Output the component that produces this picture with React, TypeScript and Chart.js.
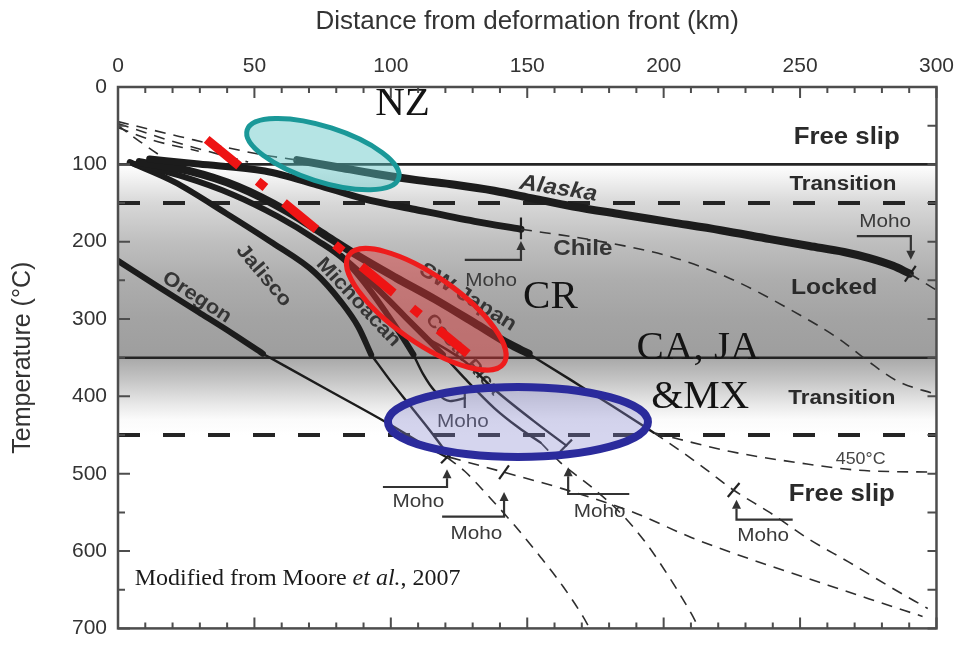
import { useEffect, useRef } from "react";
import { Chart, registerables } from "chart.js";

Chart.register(...registerables);

type Pair = [number, number];

// ---- axes ----
const DIST_MIN = 0;
const DIST_MAX = 300;
const DIST_STEP = 50;
const DIST_MINOR = 10;
const TEMP_MIN = 0;
const TEMP_MAX = 700;
const TEMP_STEP = 100;
const TEMP_MINOR = 50;
const DIST_TITLE = "Distance from deformation front (km)";
const TEMP_TITLE = "Temperature (°C)";

// ---- slip-zone isotherms (°C) ----
const SOLID_ISOTHERMS = [100, 350];
const DASHED_ISOTHERMS = [150, 450];

// ---- plate-interface thermal profiles: [distance km, temperature °C] ----
const alaska: Pair[] = [[65.7, 94.5], [80.1, 103.4], [94.6, 112.4], [109.0, 120.1], [123.5, 126.4], [137.9, 134.1], [152.3, 144.3], [166.8, 154.5], [184.8, 164.8], [202.9, 175.0], [220.9, 185.2], [239.0, 196.7], [253.4, 205.6], [266.1, 213.3], [275.1, 220.9], [284.1, 231.2], [290.2, 241.4]];
const alaskaDeep: Pair[] = [[290.2, 241.4], [299.6, 261.8]];
const chile: Pair[] = [[11.6, 93.2], [29.6, 99.6], [53.8, 108.6], [72.9, 126.4], [89.9, 144.3], [109.0, 158.4], [130.7, 173.7], [147.7, 183.9]];
const chileDeep: Pair[] = [[147.7, 183.9], [174.0, 197.9], [202.9, 219.7], [224.5, 247.8], [246.2, 287.4], [264.3, 325.7], [275.1, 355.0], [285.9, 380.6], [299.6, 397.2]];
const swJapan: Pair[] = [[7.9, 97.1], [26.0, 108.6], [44.0, 129.0], [62.1, 160.9], [76.5, 192.8], [87.4, 217.1], [101.8, 246.5], [116.2, 274.6], [130.7, 305.2], [143.3, 332.1], [150.5, 344.8]];
const swJapanLower: Pair[] = [[150.5, 344.8], [166.8, 380.6], [181.2, 412.5], [196.4, 447.0]];
const swJapanDeep: Pair[] = [[196.4, 447.0], [206.5, 471.3], [215.5, 494.3], [225.6, 521.1], [239.0, 550.4], [253.4, 584.9], [267.9, 614.3], [282.3, 644.9], [296.8, 674.3]];
const isotherm450: Pair[] = [[196.4, 447.0], [224.5, 471.3], [250.9, 486.6], [271.5, 495.5], [299.6, 498.1]];
const michoacan: Pair[] = [[6.1, 99.6], [24.2, 116.2], [42.2, 139.2], [58.5, 167.3], [72.9, 198.0], [83.0, 223.5], [91.7, 259.3], [98.9, 295.0], [104.7, 325.7], [108.3, 346.1]];
const michoacanLower: Pair[] = [[108.3, 346.1], [111.9, 371.6], [116.2, 393.4], [121.7, 406.1], [127.1, 402.3]];
const jalisco: Pair[] = [[4.3, 97.1], [20.6, 122.6], [39.7, 163.5], [56.7, 201.8], [72.2, 240.1], [81.9, 278.4], [88.1, 310.3], [92.8, 346.1]];
const jaliscoLower: Pair[] = [[92.8, 346.1], [100.0, 380.6], [107.2, 412.5], [114.4, 444.4], [121.7, 478.9]];
const jaliscoDeep: Pair[] = [[121.7, 478.9], [141.5, 498.1], [162.1, 518.5], [188.4, 549.2], [210.1, 582.4], [231.8, 610.5], [253.4, 636.0], [275.1, 661.6], [294.9, 684.5]];
const oregon: Pair[] = [[0, 224.8], [15.2, 259.3], [29.6, 291.2], [42.2, 319.3], [53.1, 344.8]];
const oregonLower: Pair[] = [[53.1, 344.8], [76.5, 390.8], [98.6, 434.2], [112.6, 463.6], [120.6, 478.9]];
const oregonDeep: Pair[] = [[120.6, 478.9], [127.1, 496.8], [135.4, 527.5], [145.1, 565.8], [154.9, 607.9], [163.2, 646.2], [170.4, 684.5], [172.9, 699.9]];
const costaRica: Pair[] = [[81.9, 218.4], [92.8, 252.9], [103.6, 291.2], [112.6, 323.1], [119.1, 346.1]];
const costaRicaLower: Pair[] = [[119.1, 346.1], [127.1, 376.8], [137.9, 415.1], [146.9, 440.6], [154.9, 459.8]];
const costaRicaDeep: Pair[] = [[154.9, 459.8], [162.1, 485.3], [174.0, 518.5], [184.8, 553.0], [193.9, 591.3], [202.9, 638.6], [210.1, 680.7], [213.0, 699.9]];
const costaRicaBranch: Pair[] = [[112.6, 323.1], [127.1, 355.0], [137.9, 390.8], [152.3, 431.7], [164.3, 463.6]];
const shallowA: Pair[] = [[0, 44.7], [22.4, 63.9], [51.6, 86.8], [65.7, 94.5]];
const shallowB: Pair[] = [[0, 47.3], [18.8, 69.0], [36.8, 86.8], [47.7, 97.1]];
const shallowC: Pair[] = [[0, 49.8], [7.9, 70.2], [15.2, 88.1]];
const shallowD: Pair[] = [[0, 52.4], [11.6, 67.7], [29.6, 83.0]];

// updip-to-downdip trend through the highlighted margins
const slabTrend: Pair[] = [[32.5, 67.7], [128.2, 344.8]];

// ---- annotations (data coordinates) ----
const ZONE_LABELS: { text: string; at: Pair }[] = [
  { text: "Free slip", at: [267.1, 65.1] },
  { text: "Transition", at: [265.7, 126.4] },
  { text: "Locked", at: [262.5, 259.3] },
  { text: "Transition", at: [265.3, 402.3] },
  { text: "Free slip", at: [265.3, 527.5] },
];
const CURVE_LABELS: { text: string; at: Pair }[] = [
  { text: "Alaska", at: [161.4, 131.5] },
  { text: "Chile", at: [170.4, 209.5] },
  { text: "SW Japan", at: [128.2, 272.0] },
  { text: "Michoacan", at: [88.1, 278.4] },
  { text: "Jalisco", at: [53.4, 243.9] },
  { text: "Oregon", at: [28.9, 272.0] },
  { text: "Costa Rica", at: [126.4, 346.1] },
];
const ISOTHERM_LABEL = { text: "450°C", at: [272.2, 481.5] as Pair };
const MOHO_MARKERS: { tip: Pair; elbow: Pair; arm: Pair; label: Pair }[] = [
  { tip: [290.6, 223.5], elbow: [290.6, 192.8], arm: [270.8, 192.8], label: [281.2, 175.0] },
  { tip: [147.7, 199.2], elbow: [147.7, 223.5], arm: [127.1, 223.5], label: [136.8, 250.3] },
  { tip: [120.6, 494.3], elbow: [120.6, 517.2], arm: [97.1, 517.2], label: [110.1, 536.4] },
  { tip: [141.5, 523.6], elbow: [141.5, 555.6], arm: [118.8, 555.6], label: [131.4, 578.5] },
  { tip: [165.0, 491.7], elbow: [165.0, 526.2], arm: [187.4, 526.2], label: [176.5, 549.2] },
  { tip: [226.7, 533.8], elbow: [226.7, 559.4], arm: [247.3, 559.4], label: [236.5, 581.1] },
];
const MOHO_INNER_LABEL: Pair = [126.4, 433.0];
const MOHO_TICKS: [Pair, Pair][] = [
  [[288.4, 251.6], [292.4, 231.2]],
  [[147.7, 168.6], [147.7, 196.7]],
  [[118.4, 486.6], [122.7, 471.3]],
  [[139.7, 507.0], [143.3, 489.1]],
  [[162.1, 471.3], [166.4, 455.9]],
  [[223.5, 530.0], [227.8, 512.1]],
  [[127.1, 393.4], [127.1, 415.1]],
];
const REGIONS: { text: string[]; at: Pair[] } = {
  text: ["NZ", "CR", "CA, JA", "&MX"],
  at: [[104.3, 21.7], [158.5, 272.0], [212.6, 338.4], [213.4, 401.0]],
};
const ELLIPSE_CENTERS: Pair[] = [[75.1, 86.8], [113.0, 287.4], [146.6, 433.0]];
const CREDIT_AT: Pair = [6.1, 636.0];

const SANS = '"Liberation Sans", Arial, Helvetica, sans-serif';
const SERIF = '"Liberation Serif", "Times New Roman", serif';

const toXY = (a: Pair[]) => a.map(([x, y]) => ({ x, y }));

function profile(label: string, data: Pair[], width: number, kind: "solid" | "dashed" = "solid") {
  const dashed = kind === "dashed";
  return {
    label,
    data: toXY(data),
    borderColor: dashed ? "#2e2e2e" : "#1c1c1c",
    borderWidth: width,
    borderDash: dashed ? [11, 8] : [],
    borderCapStyle: dashed ? "butt" : "round",
    borderJoinStyle: "round",
    pointRadius: 0,
    fill: false,
    cubicInterpolationMode: "monotone",
    order: 1,
  };
}

function label(ctx: CanvasRenderingContext2D, s: string, x: number, y: number, font: string, color: string, rot = 0, stretch = 1.1) {
  ctx.save();
  ctx.translate(x, y);
  ctx.rotate((rot * Math.PI) / 180);
  ctx.scale(stretch, 1);
  ctx.font = font;
  ctx.fillStyle = color;
  ctx.textAlign = "center";
  ctx.textBaseline = "middle";
  ctx.fillText(s, 0, 0);
  ctx.restore();
}

const ZONE_SIZE: Record<string, number> = { "Free slip": 23, Transition: 20, Locked: 22 };
const CURVE_STYLE: Record<string, { rot: number; size: number; italic?: boolean }> = {
  Alaska: { rot: 9, size: 22, italic: true },
  Chile: { rot: 0, size: 22 },
  "SW Japan": { rot: 32, size: 21 },
  Michoacan: { rot: 47, size: 20 },
  Jalisco: { rot: 50, size: 20 },
  Oregon: { rot: 33, size: 20 },
  "Costa Rica": { rot: 48, size: 18 },
};

const figurePlugin = {
  id: "subductionFigure",
  beforeDatasetsDraw(chart: any) {
    const { ctx, chartArea: a } = chart;
    const X = (v: number) => chart.scales.x.getPixelForValue(v);
    const Y = (v: number) => chart.scales.y.getPixelForValue(v);
    const P = (p: Pair) => [X(p[0]), Y(p[1])];
    ctx.save();
    ctx.beginPath();
    ctx.rect(a.left, a.top, a.right - a.left, a.bottom - a.top);
    ctx.clip();
    ctx.fillStyle = "#ffffff";
    ctx.fillRect(a.left, a.top, a.right - a.left, a.bottom - a.top);

    // shaded seismogenic band
    const y100 = Y(SOLID_ISOTHERMS[0]);
    const y350 = Y(SOLID_ISOTHERMS[1]);
    const y450 = Y(DASHED_ISOTHERMS[1]);
    const g1 = ctx.createLinearGradient(0, y100, 0, y350);
    g1.addColorStop(0, "#ffffff");
    g1.addColorStop(0.06, "#f4f4f4");
    g1.addColorStop(0.2, "#d8d8d8");
    g1.addColorStop(0.4, "#bfbfbf");
    g1.addColorStop(0.6, "#adadad");
    g1.addColorStop(0.8, "#a3a3a3");
    g1.addColorStop(1, "#9e9e9e");
    ctx.fillStyle = g1;
    ctx.fillRect(a.left, y100, a.right - a.left, y350 - y100);
    const g2 = ctx.createLinearGradient(0, y350, 0, y450);
    g2.addColorStop(0, "#a8a8a8");
    g2.addColorStop(0.3, "#c6c6c6");
    g2.addColorStop(0.6, "#e8e8e8");
    g2.addColorStop(0.8, "#fbfbfb");
    g2.addColorStop(1, "#ffffff");
    ctx.fillStyle = g2;
    ctx.fillRect(a.left, y350, a.right - a.left, y450 - y350);

    // isotherm boundaries
    ctx.strokeStyle = "#242424";
    ctx.lineWidth = 2.6;
    for (const t of SOLID_ISOTHERMS) {
      ctx.beginPath();
      ctx.moveTo(a.left, Y(t));
      ctx.lineTo(a.right, Y(t));
      ctx.stroke();
    }
    ctx.lineWidth = 4;
    ctx.setLineDash([22, 23]);
    for (const t of DASHED_ISOTHERMS) {
      ctx.beginPath();
      ctx.moveTo(a.left, Y(t));
      ctx.lineTo(a.right, Y(t));
      ctx.stroke();
    }
    ctx.setLineDash([]);

    // zone names
    for (const z of ZONE_LABELS) {
      const [x, y] = P(z.at);
      label(ctx, z.text, x, y, `bold ${ZONE_SIZE[z.text]}px ${SANS}`, "#2a2a2a", 0, 1.12);
    }
    // margin names
    for (const c of CURVE_LABELS) {
      const st = CURVE_STYLE[c.text];
      const [x, y] = P(c.at);
      label(ctx, c.text, x, y, `${st.italic ? "italic " : ""}bold ${st.size}px ${SANS}`, "#353535", st.rot, 1.1);
    }
    {
      const [x, y] = P(ISOTHERM_LABEL.at);
      label(ctx, ISOTHERM_LABEL.text, x, y, `17px ${SANS}`, "#444", 0, 1.05);
    }

    // Moho markers
    ctx.strokeStyle = "#333";
    ctx.fillStyle = "#333";
    for (const m of MOHO_MARKERS) {
      const [tx, ty] = P(m.tip);
      const [ex, ey] = P(m.elbow);
      const [ax, ay] = P(m.arm);
      const dir = ty < ey ? -1 : 1;
      const base = ty - dir * 9;
      ctx.lineWidth = 2.2;
      ctx.beginPath();
      ctx.moveTo(ax, ay);
      ctx.lineTo(ex, ey);
      ctx.lineTo(tx, base);
      ctx.stroke();
      ctx.beginPath();
      ctx.moveTo(tx, ty);
      ctx.lineTo(tx - 4.5, base);
      ctx.lineTo(tx + 4.5, base);
      ctx.closePath();
      ctx.fill();
      const [lx, ly] = P(m.label);
      label(ctx, "Moho", lx, ly, `18px ${SANS}`, "#3a3a3a", 0, 1.15);
    }
    {
      const [lx, ly] = P(MOHO_INNER_LABEL);
      label(ctx, "Moho", lx, ly, `18px ${SANS}`, "#3a3a3a", 0, 1.15);
    }
    ctx.lineWidth = 2.2;
    ctx.strokeStyle = "#222";
    for (const [p, q] of MOHO_TICKS) {
      const [x1, y1] = P(p);
      const [x2, y2] = P(q);
      ctx.beginPath();
      ctx.moveTo(x1, y1);
      ctx.lineTo(x2, y2);
      ctx.stroke();
    }
    ctx.restore();
  },
  beforeDatasetDraw(chart: any, args: any) {
    if (chart.data.datasets[args.index].label !== "trend") return;
    const { ctx } = chart;
    const X = (v: number) => chart.scales.x.getPixelForValue(v);
    const Y = (v: number) => chart.scales.y.getPixelForValue(v);
    const styles = [
      { a: 79.5, b: 27.5, rot: 17.7, fill: "rgba(90,195,195,0.45)", stroke: "#1a9898", lw: 5 },
      { a: 94.5, b: 33.5, rot: 35, fill: "rgba(225,55,55,0.45)", stroke: "#ee1c1c", lw: 5 },
      { a: 130, b: 35, rot: 0, fill: "rgba(135,135,205,0.35)", stroke: "#2b2b9c", lw: 8 },
    ];
    ctx.save();
    ELLIPSE_CENTERS.forEach((c, i) => {
      const s = styles[i];
      ctx.beginPath();
      ctx.ellipse(X(c[0]), Y(c[1]), s.a, s.b, (s.rot * Math.PI) / 180, 0, Math.PI * 2);
      ctx.fillStyle = s.fill;
      ctx.fill();
      ctx.lineWidth = s.lw;
      ctx.strokeStyle = s.stroke;
      ctx.stroke();
    });
    ctx.restore();
  },
  afterDatasetsDraw(chart: any) {
    const { ctx, chartArea: a } = chart;
    const X = (v: number) => chart.scales.x.getPixelForValue(v);
    const Y = (v: number) => chart.scales.y.getPixelForValue(v);
    ctx.save();
    // region names
    REGIONS.text.forEach((t, i) => {
      const [v, w] = REGIONS.at[i];
      label(ctx, t, X(v), Y(w), `41px ${SERIF}`, "#141414", 0, 1);
    });
    // source note
    {
      let x = X(CREDIT_AT[0]);
      const y = Y(CREDIT_AT[1]);
      ctx.fillStyle = "#1a1a1a";
      ctx.textBaseline = "middle";
      ctx.textAlign = "left";
      const parts: [string, string][] = [["Modified from Moore ", ""], ["et al.", "italic "], [", 2007", ""]];
      for (const [s, st] of parts) {
        ctx.font = `${st}24px ${SERIF}`;
        ctx.fillText(s, x, y);
        x += ctx.measureText(s).width;
      }
    }
    // frame
    ctx.strokeStyle = "#4d4d4d";
    ctx.lineWidth = 2.5;
    ctx.strokeRect(a.left, a.top, a.right - a.left, a.bottom - a.top);
    // inward tick marks
    ctx.lineWidth = 2;
    ctx.beginPath();
    for (let d = DIST_MIN; d <= DIST_MAX; d += DIST_MINOR) {
      const len = d % DIST_STEP === 0 ? 11 : 6;
      const x = X(d);
      ctx.moveTo(x, a.top);
      ctx.lineTo(x, a.top + len);
      ctx.moveTo(x, a.bottom);
      ctx.lineTo(x, a.bottom - len);
    }
    for (let t = TEMP_MIN; t <= TEMP_MAX; t += TEMP_MINOR) {
      const len = t % TEMP_STEP === 0 ? 12 : 7;
      const y = Y(t);
      ctx.moveTo(a.left, y);
      ctx.lineTo(a.left + len, y);
      ctx.moveTo(a.right, y);
      ctx.lineTo(a.right - 9, y);
    }
    ctx.stroke();
    ctx.restore();
  },
};

export default function App() {
  const ref = useRef<HTMLCanvasElement>(null);
  useEffect(() => {
    if (!ref.current) return;
    const datasets: any[] = [
      {
        label: "trend",
        data: toXY(slabTrend),
        borderColor: "#ee1414",
        borderWidth: 9,
        borderDash: [42, 24, 10, 24],
        borderCapStyle: "butt",
        pointRadius: 0,
        fill: false,
        order: 0,
      },
      profile("shallowA", shallowA, 1.6, "dashed"),
      profile("shallowB", shallowB, 1.6, "dashed"),
      profile("shallowC", shallowC, 1.6, "dashed"),
      profile("shallowD", shallowD, 1.6, "dashed"),
      profile("alaskaDeep", alaskaDeep, 1.6, "dashed"),
      profile("chileDeep", chileDeep, 1.6, "dashed"),
      profile("swJapanDeep", swJapanDeep, 1.6, "dashed"),
      profile("isotherm450", isotherm450, 1.6, "dashed"),
      profile("jaliscoDeep", jaliscoDeep, 1.6, "dashed"),
      profile("oregonDeep", oregonDeep, 1.6, "dashed"),
      profile("costaRicaDeep", costaRicaDeep, 1.6, "dashed"),
      profile("swJapanLower", swJapanLower, 2.4),
      profile("michoacanLower", michoacanLower, 2.4),
      profile("jaliscoLower", jaliscoLower, 2.4),
      profile("oregonLower", oregonLower, 2.4),
      profile("costaRicaLower", costaRicaLower, 2.4),
      profile("costaRicaBranch", costaRicaBranch, 2.4),
      profile("Alaska", alaska, 8),
      profile("Chile", chile, 7),
      profile("SW Japan", swJapan, 8),
      profile("Michoacan", michoacan, 6),
      profile("Jalisco", jalisco, 6),
      profile("Oregon", oregon, 6),
      profile("Costa Rica", costaRica, 6),
    ];
    const chart = new Chart(ref.current, {
      type: "line",
      data: { datasets },
      options: {
        responsive: false,
        animation: false,
        events: [],
        layout: { padding: { left: 0, top: 0, right: 13, bottom: 17 } },
        plugins: { legend: { display: false }, tooltip: { enabled: false } },
        scales: {
          x: {
            type: "linear",
            position: "top",
            min: DIST_MIN,
            max: DIST_MAX,
            grid: { display: false, drawTicks: false },
            border: { display: false },
            ticks: { stepSize: DIST_STEP, padding: 8, color: "#333", font: { family: SANS, size: 21 } },
            title: { display: true, text: DIST_TITLE, color: "#333", font: { family: SANS, size: 26 }, padding: { top: 6, bottom: 0 } },
            afterFit: (s: any) => {
              s.height = 87;
            },
          },
          y: {
            type: "linear",
            position: "left",
            reverse: true,
            min: TEMP_MIN,
            max: TEMP_MAX,
            grid: { display: false, drawTicks: false },
            border: { display: false },
            ticks: { stepSize: TEMP_STEP, padding: 11, color: "#333", font: { family: SANS, size: 21 } },
            title: { display: true, text: TEMP_TITLE, color: "#333", font: { family: SANS, size: 25 }, padding: { top: 8, bottom: 0 } },
            afterFit: (s: any) => {
              s.width = 118;
            },
          },
        },
      } as any,
      plugins: [figurePlugin],
    });
    return () => chart.destroy();
  }, []);
  return (
    <div style={{ position: "fixed", left: 0, top: 0, width: 962, height: 652, background: "#fff" }}>
      <canvas ref={ref} width={962} height={652} style={{ display: "block" }} />
    </div>
  );
}
